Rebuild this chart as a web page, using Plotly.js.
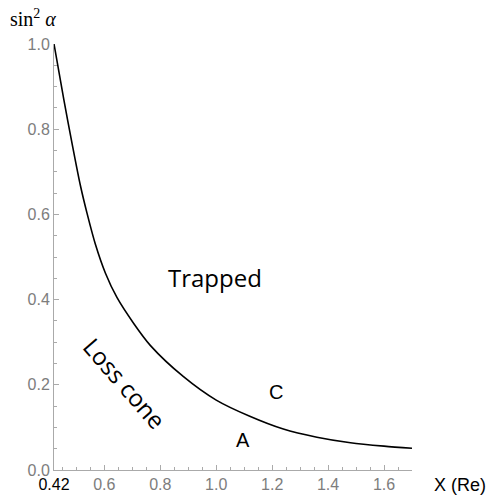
<!DOCTYPE html>
<html>
<head>
<meta charset="utf-8">
<script src="https://cdn.plot.ly/plotly-3.0.1.min.js"></script>
<style>html,body{margin:0;padding:0;background:#fff;}#chart{width:496px;height:500px;}</style>
</head>
<body>
<div id="chart"></div>
<script>
const xValues = [0.42, 0.455, 0.485, 0.514, 0.538, 0.568, 0.604, 0.645, 0.705, 0.765, 0.883, 1.0, 1.12, 1.24, 1.36, 1.48, 1.60, 1.70];
const yValues = [1.0, 0.870, 0.765, 0.669, 0.603, 0.530, 0.462, 0.405, 0.344, 0.292, 0.219, 0.164, 0.126, 0.096, 0.077, 0.064, 0.056, 0.051];
const xTickVals = [0.42, 0.6, 0.8, 1.0, 1.2, 1.4, 1.6];
const xTickText = ['<span style="fill:#000">0.42</span>', '0.6', '0.8', '1.0', '1.2', '1.4', '1.6'];
const yTickVals = [0.0, 0.2, 0.4, 0.6, 0.8, 1.0];
const yTickText = ['0.0', '0.2', '0.4', '0.6', '0.8', '1.0'];

const trace = {
  x: xValues, y: yValues, type: 'scatter', mode: 'lines',
  line: {color: '#000', width: 1.6, shape: 'spline', smoothing: 0.8},
  hoverinfo: 'skip'
};

const tickFont = {family: 'Liberation Sans, Arial, sans-serif', size: 16, color: '#7d7d7d'};

const layout = {
  width: 496, height: 500,
  margin: {l: 54, r: 84, t: 44, b: 30, pad: 0},
  paper_bgcolor: '#fff', plot_bgcolor: '#fff',
  showlegend: false,
  xaxis: {
    range: [0.42, 1.7], showgrid: false, zeroline: false,
    showline: true, linecolor: '#aaaaaa', linewidth: 1,
    ticks: 'inside', ticklen: 5, tickcolor: '#aaaaaa', tickwidth: 1,
    tickmode: 'array', tickvals: xTickVals, ticktext: xTickText,
    tickfont: tickFont,
    minor: {tickmode: 'linear', tick0: 0, dtick: 0.05, ticks: 'inside', ticklen: 3, tickcolor: '#aaaaaa', showgrid: false}
  },
  yaxis: {
    range: [0, 1.0], showgrid: false, zeroline: false,
    showline: true, linecolor: '#aaaaaa', linewidth: 1,
    ticks: 'inside', ticklen: 5, tickcolor: '#aaaaaa', tickwidth: 1,
    tickmode: 'array', tickvals: yTickVals, ticktext: yTickText,
    tickfont: tickFont,
    minor: {tickmode: 'linear', tick0: 0, dtick: 0.05, ticks: 'inside', ticklen: 3, tickcolor: '#aaaaaa', showgrid: false}
  },
  annotations: [
    {text: 'sin<sup>2</sup> <i>α</i>', xref: 'paper', yref: 'paper', x: -0.128, y: 1.061, xanchor: 'left', yanchor: 'middle', showarrow: false,
     font: {family: 'Liberation Serif, Times New Roman, serif', size: 20, color: '#000'}},
    {text: 'X (Re)', xref: 'paper', yref: 'paper', x: 1.056, y: -0.035, xanchor: 'left', yanchor: 'middle', showarrow: false,
     font: {family: 'Liberation Sans, Arial, sans-serif', size: 18, color: '#000'}},
    {text: 'Trapped', xref: 'x', yref: 'y', x: 0.996, y: 0.451, showarrow: false,
     font: {family: 'Open Sans, sans-serif', size: 24, color: '#000'}},
    {text: 'Loss cone', xref: 'x', yref: 'y', x: 0.675, y: 0.204, showarrow: false, textangle: 49,
     font: {family: 'Open Sans, sans-serif', size: 24, color: '#000'}},
    {text: 'C', xref: 'x', yref: 'y', x: 1.214, y: 0.183, showarrow: false,
     font: {family: 'Liberation Sans, Arial, sans-serif', size: 20, color: '#000'}},
    {text: 'A', xref: 'x', yref: 'y', x: 1.096, y: 0.070, showarrow: false,
     font: {family: 'Liberation Sans, Arial, sans-serif', size: 20, color: '#000'}}
  ]
};

Plotly.newPlot('chart', [trace], layout, {displayModeBar: false, staticPlot: true});
</script>
</body>
</html>
